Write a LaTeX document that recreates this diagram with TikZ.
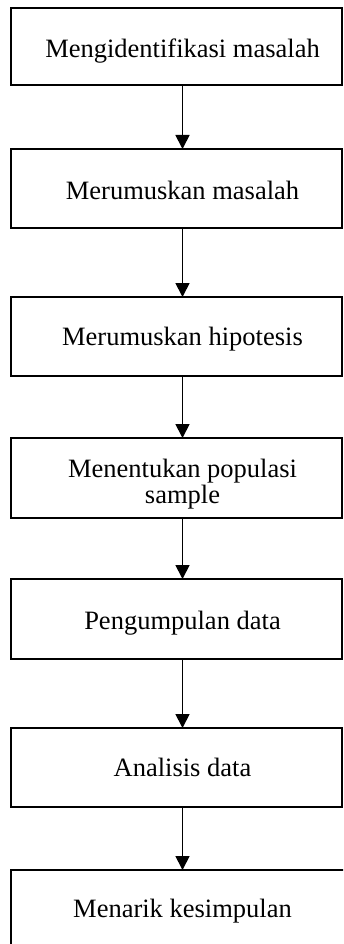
\documentclass[tikz,border=0pt]{standalone}
\usepackage{fontspec}
\setmainfont{Liberation Serif}
\usetikzlibrary{arrows.meta}
\begin{document}
\begin{tikzpicture}[x=1pt,y=-1pt,
  boxstyle/.style={draw, line width=2pt, minimum width=331pt, inner sep=0pt, outer sep=0pt, anchor=north west},
  txt/.style={anchor=base, font=\fontsize{26.5}{21}\selectfont, align=center, inner sep=0pt},
  arr/.style={-{Triangle[width=14pt,length=14pt]}, line width=1.8pt}]
\useasboundingbox (0,0) rectangle (343,944);
\clip (0,0) rectangle (343,944);
\node[boxstyle, minimum height=77pt] (b1) at (11,8) {};
\node[boxstyle, minimum height=79pt] (b2) at (11,149) {};
\node[boxstyle, minimum height=79pt] (b3) at (11,297) {};
\node[boxstyle, minimum height=80pt] (b4) at (11,438) {};
\node[boxstyle, minimum height=80pt] (b5) at (11,579) {};
\node[boxstyle, minimum height=79pt] (b6) at (11,728) {};
\node[boxstyle, minimum height=90pt, minimum width=345pt] (b7) at (11,870) {};
\node[txt] (t1) at (182.5,58) {Mengidentifikasi masalah};
\node[txt] (t2) at (182.5,199) {Merumuskan masalah};
\node[txt] (t3) at (182.5,345) {Merumuskan hipotesis};
\node[txt] (t4) at (182.5,503) {Menentukan populasi\\sample};
\node[txt] (t5) at (182.5,629) {Pengumpulan data};
\node[txt] (t6) at (182.5,776) {Analisis data};
\node[txt] (t7) at (182.5,917) {Menarik kesimpulan};
\draw[arr] (b1.south -| t1.base) -- (b2.north -| t1.base);
\draw[arr] (b2.south -| t1.base) -- (b3.north -| t1.base);
\draw[arr] (b3.south -| t1.base) -- (b4.north -| t1.base);
\draw[arr] (b4.south -| t1.base) -- (b5.north -| t1.base);
\draw[arr] (b5.south -| t1.base) -- (b6.north -| t1.base);
\draw[arr] (b6.south -| t1.base) -- (b7.north -| t1.base);
\end{tikzpicture}
\end{document}
